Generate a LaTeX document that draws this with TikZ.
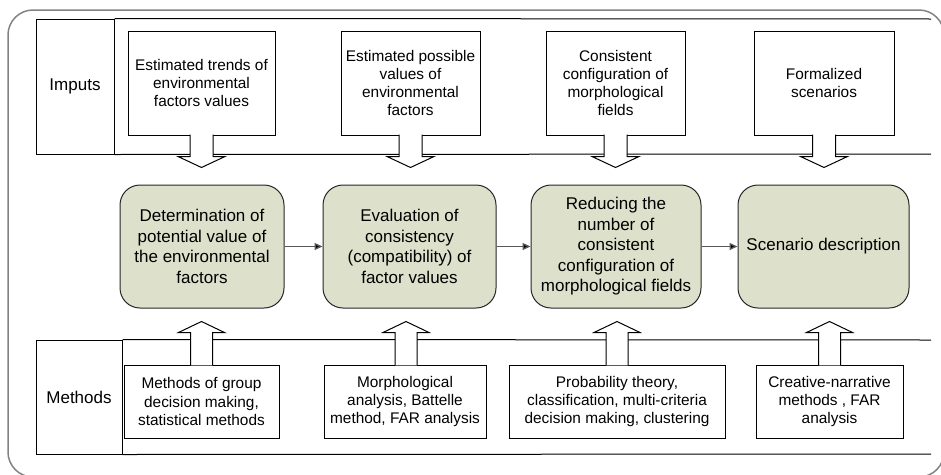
\documentclass[tikz,border=0pt]{standalone}
\usepackage{fontspec}
\setmainfont{Liberation Sans}
\usetikzlibrary{arrows.meta}
\definecolor{stagefill}{RGB}{221,224,203}
\definecolor{framegray}{RGB}{130,130,130}
\tikzset{
  inbox/.style={draw, line width=1pt, minimum height=104, align=center, inner sep=0pt,
    font=\fontsize{15.4}{18.3}\selectfont},
  methbox/.style={draw, line width=1pt, minimum height=73, align=center, inner sep=0pt,
    font=\fontsize{15.4}{18.3}\selectfont},
  stage/.style={draw=black!85, line width=1pt, fill=stagefill, rounded corners=20, minimum height=123,
    align=center, inner sep=0pt, font=\fontsize{17}{20.5}\selectfont},
  rowlabel/.style={draw, line width=1pt, align=center, font=\fontsize{17}{20}\selectfont},
  callout/.style={draw, line width=1pt, fill=white},
  flow/.style={draw=black!65, line width=1.3pt, -{Triangle[length=8pt,width=7pt,fill=black]}},
}
\begin{document}
\begin{tikzpicture}[x=1pt, y=-1pt]
	\useasboundingbox (0,0) rectangle (941,474);
	% outer frame
	\draw[framegray, line width=1.5pt, rounded corners=25] (8,10) rectangle (944,477);

	% bands
	\node[rowlabel, minimum width=78, minimum height=135] at (75, 86.5) (imp) {Imputs};
	\node[rowlabel, minimum width=86, minimum height=114] at (79, 397) (met) {Methods};
	\draw[line width=1pt] (imp.north east) -- (931,19);
	\draw[line width=1pt] (imp.south east) -- (931,154);
	\draw[line width=1pt] (met.north east) -- (931,340);
	\draw[line width=1pt] (met.south east) -- (931,454);

	% inputs
	\node[inbox, minimum width=147] at (201.5, 83) (in1) {Estimated trends of\\environmental\\factors values};
	\node[inbox, minimum width=139] at (410.5, 83) (in2) {Estimated possible\\values of\\environmental\\factors};
	\node[inbox, minimum width=139] at (615.5, 83) (in3) {Consistent\\configuration of\\morphological\\fields};
	\node[inbox, minimum width=140] at (824, 83) (in4) {Formalized\\scenarios};

	% stages
	\node[stage, minimum width=164] at (202, 246.5) (s1) {Determination of\\potential value of\\the environmental\\factors};
	\node[stage, minimum width=173] at (409.5, 246.5) (s2) {Evaluation of\\consistency\\(compatibility) of\\factor values};
	\node[stage, minimum width=170] at (616, 246.5) (s3) {Reducing the\\number of\\consistent\\configuration of\\morphological fields};
	\node[stage, minimum width=171] at (823.5, 246.5) (s4) {Scenario description};

	% methods
	\node[methbox, minimum width=155] at (201.5, 401.5) (m1) {Methods of group\\decision making,\\statistical methods};
	\node[methbox, minimum width=162] at (405, 401.5) (m2) {Morphological\\analysis, Battelle\\method, FAR analysis};
	\node[methbox, minimum width=216] at (617, 401.5) (m3) {Probability theory,\\classification, multi-criteria\\decision making, clustering};
	\node[methbox, minimum width=147] at (829.5, 401.5) (m4) {Creative-narrative\\methods , FAR\\analysis};

	% down arrows from inputs
	\foreach \n in {in1,in2,in3,in4}
		\draw[callout] ([xshift=-11.5pt,yshift=.8pt]\n.south) -- ++(0,21.8) -- ++(-12,0) -- ++(23.5,11)
			-- ++(23.5,-11) -- ++(-12,0) -- ++(0,-21.8);

	% up arrows from methods
	\foreach \n/\dx in {m1/0,m2/1,m3/0,m4/0}
		\draw[callout] ([xshift=\dx pt-11pt,yshift=-.8pt]\n.north) -- ++(0,-32.8) -- ++(-12,0) -- ++(23,-11)
			-- ++(23,11) -- ++(-12,0) -- ++(0,32.8);

	\draw[flow] (s1) -- (s2);
	\draw[flow] (s2) -- (s3);
	\draw[flow] (s3) -- (s4);
\end{tikzpicture}
\end{document}
